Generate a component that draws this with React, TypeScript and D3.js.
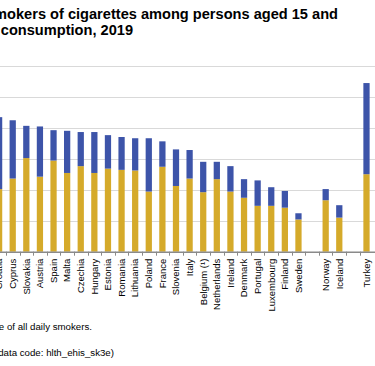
import { useEffect, useRef } from 'react'
import * as d3 from 'd3'

// categories in chart order ('' and ' ' are the empty spacer slots)
const countries = [
    'Croatia', 'Cyprus', 'Slovakia', 'Austria', 'Spain', 'Malta', 'Czechia', 'Hungary',
    'Estonia', 'Romania', 'Lithuania', 'Poland', 'France', 'Slovenia', 'Italy', 'Belgium (¹)',
    'Netherlands', 'Ireland', 'Denmark', 'Portugal', 'Luxembourg', 'Finland', 'Sweden', '',
    'Norway', 'Iceland', ' ', 'Turkey',
]

// % of persons aged 15+, less than 20 cigarettes per day
const lessThan20 = [
    10.1, 11.8, 15.1, 12.1, 14.7, 12.7, 13.8, 12.7, 13.4, 13.2, 13.1, 9.7, 13.7, 10.6, 11.8, 9.6,
    11.7, 9.7, 8.7, 7.4, 7.4, 7.1, 5.2, 0, 8.3, 5.5, 0, 12.5,
]

// % of persons aged 15+, 20 or more cigarettes per day
const twentyOrMore = [
    11.6, 9.4, 5.2, 8.1, 4.9, 6.8, 5.5, 6.6, 5.4, 5.3, 5.2, 8.6, 4.1, 5.9, 4.6, 4.9,
    2.8, 4.1, 3.0, 4.1, 3.0, 2.7, 1.0, 0, 1.8, 2.0, 0, 14.7,
]

const yTicks = [0, 5, 10, 15, 20, 25, 30]

const Chart = () => {
    const ref = useRef<SVGSVGElement | null>(null)

    useEffect(() => {
        if (!ref.current) return

        const width = 375
        const height = 366
        const baseY = 251.7

        const svg = d3.select(ref.current)
        svg.selectAll('*').remove()
        svg.attr('width', width).attr('height', height)

        svg.append('rect').attr('width', width).attr('height', height).attr('fill', '#fff')

        const x = d3.scaleBand().domain(countries).range([-7.7, 373.3]).paddingInner(0.54).paddingOuter(0.27)
        const step = x.step()
        const y = d3.scaleLinear().domain([0, 30]).range([baseY, 65.7])

        // title
        const title = svg.append('g')
            .attr('font-family', 'Liberation Sans, Arial, sans-serif')
            .attr('font-weight', 'bold')
            .attr('font-size', 14.6)
            .attr('fill', '#000')
            .attr('text-anchor', 'end')
        title.append('text').attr('x', 338).attr('y', 19).text('Daily smokers of cigarettes among persons aged 15 and')
        title.append('text').attr('x', 133).attr('y', 35).text('over, by level of consumption, 2019')

        // gridlines
        svg.append('g')
            .selectAll('line')
            .data(yTicks.filter(d => d > 0))
            .join('line')
            .attr('x1', 0)
            .attr('x2', width)
            .attr('y1', d => Math.round(y(d)) + 0.5)
            .attr('y2', d => Math.round(y(d)) + 0.5)
            .attr('stroke', '#d9d9d9')
            .attr('stroke-width', 1)

        // stacked bars
        const stacked = countries.map((c, i) => ({ c, low: lessThan20[i], high: twentyOrMore[i] }))
        const bars = svg.append('g')
        bars.selectAll('rect.low')
            .data(stacked.filter(d => d.low > 0))
            .join('rect')
            .attr('class', 'low')
            .attr('x', d => x(d.c)!)
            .attr('width', x.bandwidth())
            .attr('y', d => y(d.low))
            .attr('height', d => baseY - y(d.low))
            .attr('fill', '#d5aa2a')
        bars.selectAll('rect.high')
            .data(stacked.filter(d => d.high > 0))
            .join('rect')
            .attr('class', 'high')
            .attr('x', d => x(d.c)!)
            .attr('width', x.bandwidth())
            .attr('y', d => y(d.low + d.high))
            .attr('height', d => y(d.low) - y(d.low + d.high))
            .attr('fill', '#3d54a9')

        // x axis line and ticks between categories
        const axis = svg.append('g')
        axis.append('line')
            .attr('x1', 0)
            .attr('x2', width)
            .attr('y1', baseY + 0.5)
            .attr('y2', baseY + 0.5)
            .attr('stroke', '#8a8a8a')
            .attr('stroke-width', 1.5)
        axis.selectAll('line.tick')
            .data(countries)
            .join('line')
            .attr('class', 'tick')
            .attr('x1', d => Math.round(x(d)! - (step - x.bandwidth()) / 2) + 0.5)
            .attr('x2', d => Math.round(x(d)! - (step - x.bandwidth()) / 2) + 0.5)
            .attr('y1', baseY)
            .attr('y2', baseY + 4)
            .attr('stroke', '#8a8a8a')

        axis.selectAll('text')
            .data(countries.filter(d => d.trim() !== ''))
            .join('text')
            .attr('transform', d => `translate(${x(d)! + x.bandwidth() / 2 + 3.3},${baseY + 7}) rotate(-90)`)
            .attr('text-anchor', 'end')
            .attr('font-family', 'Liberation Sans, Arial, sans-serif')
            .attr('font-size', 9.5)
            .attr('fill', '#000')
            .text(d => d)

        // footnotes
        const notes = svg.append('g')
            .attr('font-family', 'Liberation Sans, Arial, sans-serif')
            .attr('font-size', 9.7)
            .attr('fill', '#000')
            .attr('text-anchor', 'end')
        notes.append('text').attr('x', 92).attr('y', 330).text('Note: ranked on the share of all daily smokers.')
        notes.append('text').attr('x', 114).attr('y', 356).text('Source: Eurostat (data code: hlth_ehis_sk3e)')
    }, [])

    return <svg ref={ref} style={{ position: 'absolute', left: 0, top: 0, display: 'block' }}></svg>
}

export default function App() {
    return (
        <div>
            <Chart />
        </div>
    )
}
